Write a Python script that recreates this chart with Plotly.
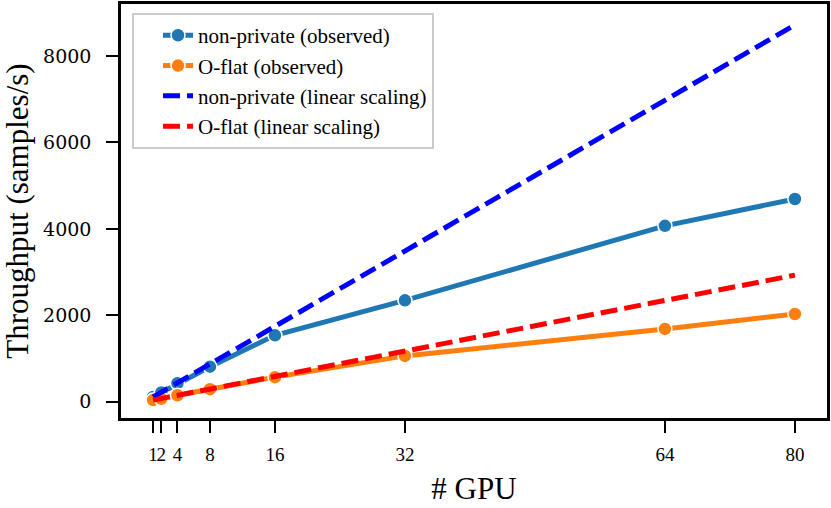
import plotly.graph_objects as go

# throughput vs number of GPUs
gpus = [1, 2, 4, 8, 16, 32, 64, 80]
nonprivate_observed = [109, 212, 430, 810, 1535, 2345, 4070, 4690]
oflat_observed = [37, 68, 150, 290, 568, 1060, 1685, 2030]
nonprivate_linear = [109, 218, 436, 872, 1744, 3488, 6976, 8720]
oflat_linear = [36.6, 73.2, 146.4, 292.8, 585.6, 1171.2, 2342.4, 2928]

x_ticks = [1, 2, 4, 8, 16, 32, 64, 80]
x_tick_labels = ["1", "2", "4", "8", "16", "32", "64", "80"]
y_ticks = [0, 2000, 4000, 6000, 8000]

serif = "Liberation Serif"


def observed(y, name, color):
    return go.Scatter(x=gpus, y=y, name=name, mode="lines+markers",
                      line=dict(color=color, width=5),
                      marker=dict(color=color, size=14,
                                  line=dict(color="white", width=1.5)))


def linear(y, name, color):
    return go.Scatter(x=gpus, y=y, name=name, mode="lines",
                      line=dict(color=color, width=5, dash="17px,7px"))


fig = go.Figure()
fig.add_trace(observed(nonprivate_observed, "non-private (observed)", "#1f77b4"))
fig.add_trace(observed(oflat_observed, "O-flat (observed)", "#ff7f0e"))
fig.add_trace(linear(nonprivate_linear, "non-private (linear scaling)", "#0000ff"))
fig.add_trace(linear(oflat_linear, "O-flat (linear scaling)", "#ff0000"))

axis_style = dict(showline=True, linecolor="black", linewidth=2.5, mirror=True,
                  ticks="outside", ticklen=12, tickwidth=2, tickcolor="black",
                  showgrid=False, zeroline=False, automargin=False)

fig.update_layout(
    width=831, height=508,
    margin=dict(l=121, r=4, t=4, b=90),
    plot_bgcolor="white", paper_bgcolor="white",
    font=dict(family=serif, color="black"),
    xaxis=dict(range=[-2.95, 83.95], tickvals=x_ticks, ticktext=x_tick_labels,
               tickangle=0, tickfont=dict(family=serif, size=19),
               ticklabelstandoff=5,
               title=dict(text="# GPU", font=dict(family=serif, size=31),
                          standoff=14),
               **axis_style),
    yaxis=dict(range=[-377, 9203], tickvals=y_ticks,
               tickfont=dict(family="DejaVu Serif", size=19), ticklabelstandoff=11,
               title=dict(text="Throughput (samples/s)",
                          font=dict(family=serif, size=31), standoff=6),
               **axis_style),
    legend=dict(x=0.0156, y=0.978, xanchor="left", yanchor="top",
                bgcolor="white", bordercolor="#cccccc", borderwidth=2,
                font=dict(family=serif, size=21), indentation=24),
    showlegend=True,
)

# page has a default body margin; drop it so the figure sits at the corner
fig.write_html("out.html", config={"displayModeBar": False},
               post_script="document.body.style.margin = '0';")
